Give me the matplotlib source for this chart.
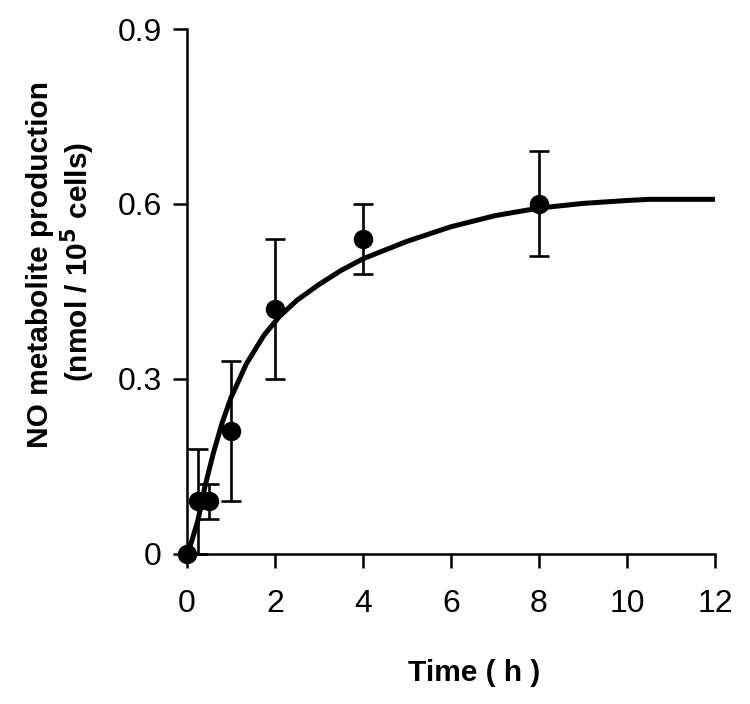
import matplotlib
matplotlib.use("Agg")
import matplotlib.pyplot as plt
import numpy as np

plt.rcParams['font.family'] = ['Liberation Sans', 'DejaVu Sans']

# measured points
time_h = [0, 0.25, 0.5, 1, 2, 4, 8]
no_prod = [0.0, 0.09, 0.09, 0.21, 0.42, 0.54, 0.60]
no_err = [0.0, 0.09, 0.03, 0.12, 0.12, 0.06, 0.09]

# fitted curve
fit_t = [0, 0.1, 0.25, 0.4, 0.6, 0.8, 1.0, 1.35, 1.75, 2.1, 2.5, 3, 3.5,
         4, 5, 6, 7, 8, 9, 10, 10.5, 12]
fit_y = [0, 0.02, 0.058, 0.113, 0.173, 0.225, 0.268, 0.326, 0.375, 0.407,
         0.435, 0.462, 0.486, 0.506, 0.536, 0.561, 0.58, 0.593, 0.601, 0.606,
         0.608, 0.608]

xticks = [0, 2, 4, 6, 8, 10, 12]
yticks = [0, 0.3, 0.6, 0.9]
ytick_labels = ['0', '0.3', '0.6', '0.9']

fig = plt.figure(figsize=(7.5, 7.04), dpi=100)
ax = fig.add_axes([0.2493, 0.2131, 0.704, 0.7457])

ax.plot(fit_t, fit_y, 'k-', linewidth=3.6, solid_capstyle='butt',
        solid_joinstyle='round', zorder=3)
ax.errorbar(time_h, no_prod, yerr=no_err, fmt='o', color='k', ms=13,
            elinewidth=1.9, capsize=7, capthick=1.9, clip_on=False, zorder=4)

ax.set_xlim(0, 12)
ax.set_ylim(0, 0.9)
ax.set_xticks(xticks)
ax.set_yticks(yticks)
ax.set_yticklabels(ytick_labels)
for side in ['top', 'right']:
    ax.spines[side].set_visible(False)
for side in ['left', 'bottom']:
    ax.spines[side].set_linewidth(1.8)
ax.tick_params(axis='both', direction='out', length=10, width=1.8,
               labelsize=23)
ax.tick_params(axis='x', pad=15)
ax.tick_params(axis='y', pad=8)

fig.text(40 / 750, 0.624, 'NO metabolite production', rotation=90,
         ha='center', va='center', fontsize=21.5, fontweight='bold')
fig.text(78 / 750, 0.628, r'(nmol / 10$^{\mathbf{5}}$ cells)', rotation=90,
         ha='center', va='center', fontsize=21.5, fontweight='bold')
fig.text(474 / 750, 0.044, 'Time ( h )', ha='center', va='center',
         fontsize=21.5, fontweight='bold')

fig.savefig('out.png', dpi=100)
